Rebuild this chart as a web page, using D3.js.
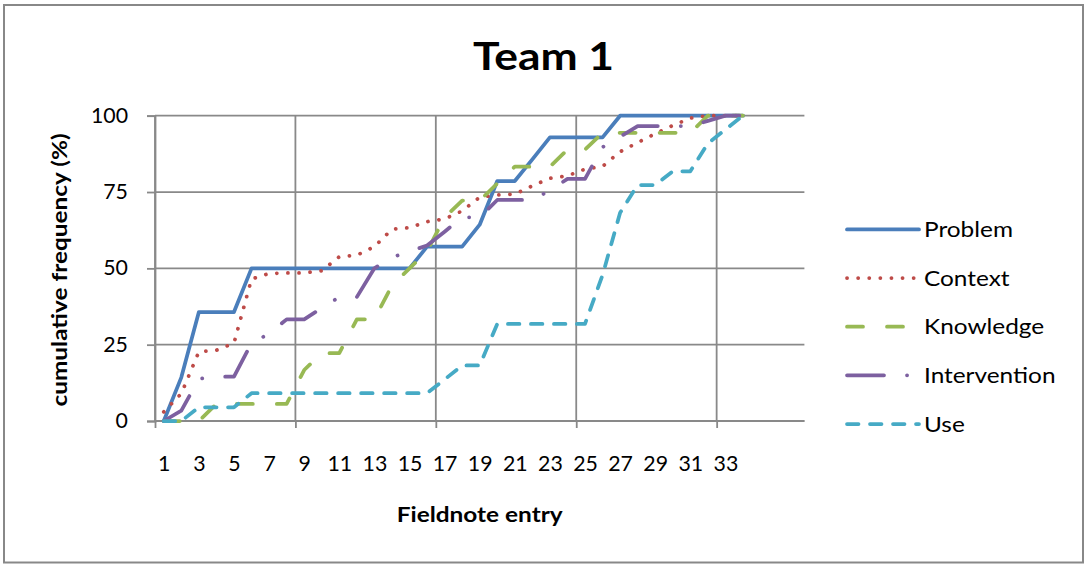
<!DOCTYPE html>
<html>
<head>
<meta charset="utf-8">
<script src="https://cdn.jsdelivr.net/npm/d3@7"></script>
<style>
  html, body { margin: 0; padding: 0; background: #fff; }
  svg { display: block; font-family: Lato, "Open Sans", sans-serif; }
</style>
</head>
<body>
<svg id="chart" width="1085" height="565"></svg>
<script>
// Fieldnote entries (categories) – the axis holds 37 slots, entries 1..34 carry data
const entries = d3.range(1, 35);
const slotCount = 37;
const xLabels = d3.range(1, 34, 2);
const yTicks = [0, 25, 50, 75, 100];

const seriesNames = ["Problem", "Context", "Knowledge", "Intervention", "Use"];

const problem = [0, 14.3, 35.7, 35.7, 35.7, 50, 50, 50, 50, 50, 50, 50, 50, 50, 50, 57.1, 57.1, 57.1,
  64.3, 78.6, 78.6, 85.7, 92.9, 92.9, 92.9, 92.9, 100, 100, 100, 100, 100, 100, 100, 100];
const context = [3, 9, 22.7, 23.2, 25.5, 46.5, 48.3, 48.5, 48.5, 49.2, 53.8, 54.3, 57.1, 62.8, 63.3, 65.3,
  66.2, 68.8, 73.3, 74, 74.3, 77, 79.5, 80.3, 82.5, 83.4, 88.2, 91.2, 94.1, 96.8, 99.2, 100, 100, 100];
const knowledge = [0, 0, 0, 5.6, 5.6, 5.6, 5.6, 5.6, 16.7, 22.2, 22.2, 33.3, 33.3, 44.4, 50, 55.6, 66.7,
  72.2, 72.2, 77.8, 83.3, 83.3, 83.3, 88.9, 88.9, 94.4, 94.4, 94.4, 94.4, 94.4, 94.4, 100, 100, 100];
const intervention = [0, 3.4, 13.8, 14.5, 14.5, 25.5, 28.6, 33.3, 33.3, 37, 40.6, 40.6, 50, 53.6, 55.5,
  57.5, 62, 66.7, 66.7, 72.4, 72.4, 72.4, 75.5, 79.3, 79.3, 89.7, 93.1, 96.6, 96.6, 96.6, 96.6, 98.3, 100, 100];
const use = [0, 0, 4.5, 4.5, 4.5, 9.1, 9.1, 9.1, 9.1, 9.1, 9.1, 9.1, 9.1, 9.1, 9.1, 9.1, 13.6, 18.2, 18.2,
  31.8, 31.8, 31.8, 31.8, 31.8, 31.8, 47.8, 68.2, 77.3, 77.3, 81.8, 81.8, 90.9, 95.5, 100];

const seriesValues = [problem, context, knowledge, intervention, use];
const seriesColors = ["#4A7EBB", "#BE4B48", "#98B954", "#7D60A0", "#46AAC5"];
const seriesDash = [null, "0.1 11", "16 24", "37 23 0.1 23", "11.5 11.5"];

const svg = d3.select("#chart");
const plot = { left: 155, right: 804.4, top: 115.7, bottom: 421 };
const lineWidth = 3.75;
const gridColor = "#898989";
const fontFamily = "Lato, sans-serif";
const wordStretch = 1.19;   // horizontal stretch applied to word labels
const digitStretch = 1.04;  // and to numeric tick labels

// Outer chart border
svg.append("rect")
  .attr("x", 4).attr("y", 5)
  .attr("width", 1079).attr("height", 557.5)
  .attr("fill", "#fff")
  .attr("stroke", "#888").attr("stroke-width", 2);

// Scales: category slots are centred on integer positions
const x = d3.scaleLinear().domain([0.5, slotCount + 0.5]).range([plot.left, plot.right]);
const y = d3.scaleLinear().domain([0, 100]).range([plot.bottom, plot.top]);

// Horizontal gridlines
svg.append("g")
  .selectAll("line")
  .data(yTicks)
  .join("line")
  .attr("x1", plot.left).attr("x2", plot.right)
  .attr("y1", d => y(d)).attr("y2", d => y(d))
  .attr("stroke", gridColor).attr("stroke-width", 1.8);

// Vertical gridlines every 8 entries
const vBounds = d3.range(0.5, slotCount, 8);
svg.append("g")
  .selectAll("line")
  .data(vBounds)
  .join("line")
  .attr("x1", d => x(d)).attr("x2", d => x(d))
  .attr("y1", plot.top).attr("y2", plot.bottom)
  .attr("stroke", gridColor).attr("stroke-width", 1.8);

// Y axis
const yTickSize = 8, yTickPad = 19;
const yAxis = svg.append("g")
  .attr("transform", `translate(${plot.left},0)`)
  .call(d3.axisLeft(y).tickValues(yTicks).tickSize(yTickSize).tickPadding(yTickPad));
yAxis.select(".domain").attr("stroke", gridColor).attr("stroke-width", 1.8);
yAxis.selectAll(".tick line").attr("stroke", gridColor).attr("stroke-width", 1.8);
yAxis.selectAll("text")
  .attr("x", 0)
  .attr("transform", `translate(${-(yTickSize + yTickPad)},0) scale(${digitStretch},1)`)
  .attr("font-family", fontFamily)
  .attr("font-size", 20.5).attr("fill", "#000");

// X axis: tick marks at gridline boundaries
const xTickAxis = svg.append("g")
  .attr("transform", `translate(0,${plot.bottom})`)
  .call(d3.axisBottom(x).tickValues(vBounds).tickSize(7).tickFormat(""));
xTickAxis.select(".domain").remove();
xTickAxis.selectAll(".tick line").attr("stroke", gridColor).attr("stroke-width", 1.8);

svg.append("line")
  .attr("x1", plot.left).attr("x2", plot.right)
  .attr("y1", plot.bottom).attr("y2", plot.bottom)
  .attr("stroke", gridColor).attr("stroke-width", 1.8);

// X axis labels
const xLabelAxis = svg.append("g")
  .attr("transform", `translate(0,${plot.bottom})`)
  .call(d3.axisBottom(x).tickValues(xLabels).tickSize(0).tickPadding(35));
xLabelAxis.select(".domain").remove();
xLabelAxis.selectAll("text")
  .attr("transform", `scale(${digitStretch},1)`)
  .attr("font-family", fontFamily)
  .attr("font-size", 20.5).attr("fill", "#000");

// Series lines
const line = d3.line()
  .x((d, i) => x(entries[i]))
  .y(d => y(d));

const linesG = svg.append("g");
seriesValues.forEach((vals, k) => {
  linesG.append("path")
    .datum(vals)
    .attr("d", line)
    .attr("fill", "none")
    .attr("stroke", seriesColors[k])
    .attr("stroke-width", lineWidth)
    .attr("stroke-linecap", "round")
    .attr("stroke-linejoin", "round")
    .attr("stroke-dasharray", seriesDash[k]);
});

// Title
svg.append("text")
  .attr("transform", `translate(543.5,69.5) scale(1.15,1)`)
  .attr("text-anchor", "middle")
  .attr("font-family", fontFamily)
  .attr("font-weight", "bold")
  .attr("font-size", 38.6)
  .text("Team 1");

// Axis titles
svg.append("text")
  .attr("transform", `translate(66.5,270) rotate(-90) scale(${wordStretch},1)`)
  .attr("text-anchor", "middle")
  .attr("font-family", fontFamily)
  .attr("font-weight", "bold")
  .attr("font-size", 20.5)
  .text("cumulative frequency (%)");

svg.append("text")
  .attr("transform", `translate(${(plot.left + plot.right) / 2},521.5) scale(${wordStretch},1)`)
  .attr("text-anchor", "middle")
  .attr("font-family", fontFamily)
  .attr("font-weight", "bold")
  .attr("font-size", 20.5)
  .text("Fieldnote entry");

// Legend
const legendY = d3.scalePoint().domain(seriesNames).range([229.4, 424]);
const legend = svg.append("g");
seriesNames.forEach((name, k) => {
  const ly = legendY(name);
  legend.append("line")
    .attr("x1", 847).attr("x2", 919)
    .attr("y1", ly).attr("y2", ly)
    .attr("stroke", seriesColors[k])
    .attr("stroke-width", lineWidth)
    .attr("stroke-linecap", "round")
    .attr("stroke-dasharray", seriesDash[k]);
  legend.append("text")
    .attr("transform", `translate(924,${ly + 7.5}) scale(${wordStretch},1)`)
    .attr("font-family", fontFamily)
    .attr("font-size", 20.5)
    .attr("fill", "#000")
    .text(name);
});
</script>
</body>
</html>
